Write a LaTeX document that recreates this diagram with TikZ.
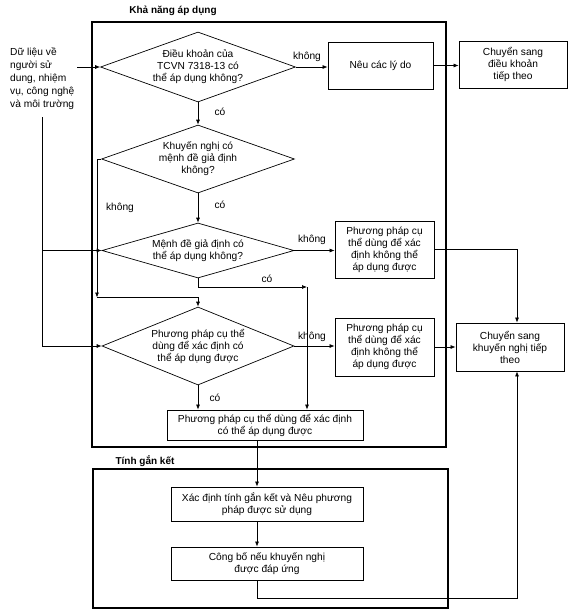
\documentclass[tikz,border=0pt]{standalone}
\usepackage{fontspec}
\setmainfont{Liberation Sans}
\usetikzlibrary{shapes.geometric,arrows.meta}
\begin{document}
\begin{tikzpicture}[x=1pt,y=-1pt,
  every node/.style={font=\fontsize{10.2}{12}\selectfont, align=center, inner sep=0pt},
  frame/.style={draw, line width=1.2pt},
  dia/.style={draw, diamond, line width=0.7pt, minimum width=#1},
  boxx/.style={draw, rectangle, line width=0.8pt},
  conn/.style={line width=0.7pt},
  arr/.style={conn, -{Latex[length=5pt,width=4pt]}},
  lbl/.style={font=\fontsize{10.2}{12}\selectfont},
  ttl/.style={font=\bfseries\fontsize{10}{12}\selectfont}
]
\useasboundingbox (0,0) rectangle (576,616);
\fill[white] (0,0) rectangle (576,616);

% frames
\draw[frame] (92,22) rectangle (446,447);
\draw[frame] (93,469) rectangle (448,608);
\node[ttl] (t1) at (173,11) {Khả năng áp dụng};
\node[ttl] (t2) at (145,461) {Tính gắn kết};

% input text
\node[align=left, anchor=north west, font=\fontsize{10.2}{13.2}\selectfont] (inp) at (10,47) {Dữ liệu về\\người sử\\dung, nhiệm\\vụ, công nghệ\\và môi trường};

% diamonds
\node[dia=195pt, minimum height=70pt, aspect=2.8] (d1) at (198,67) {Điều khoản của\\TCVN 7318-13 có\\thể áp dụng không?};
\node[dia=193pt, minimum height=68pt, aspect=2.84] (d2) at (198,159) {Khuyến nghị có\\mệnh đề giả định\\không?};
\node[dia=192pt, minimum height=55pt, aspect=3.5] (d3) at (198,250.5) {Mệnh đề giả định có\\thể áp dụng không?};
\node[dia=192pt, minimum height=78pt, aspect=2.46] (d4) at (198,346) {Phương pháp cụ thể\\dùng để xác định có\\thể áp dụng được};

% boxes
\node[boxx, minimum width=105pt, minimum height=47pt] (reason) at (380.5,65.5) {Nêu các lý do};
\node[boxx, minimum width=108pt, minimum height=47pt] (nextc) at (513,64.5) {Chuyển sang\\điều khoản\\tiếp theo};
\node[boxx, minimum width=99pt, minimum height=57pt] (na1) at (384.5,249.5) {Phương pháp cụ\\thể dùng để xác\\định không thể\\áp dụng được};
\node[boxx, minimum width=99pt, minimum height=58pt] (na2) at (384.5,347) {Phương pháp cụ\\thể dùng để xác\\định không thể\\áp dụng được};
\node[boxx, minimum width=108pt, minimum height=48pt] (nextr) at (510,347) {Chuyển sang\\khuyến nghị tiếp\\theo};
\node[boxx, minimum width=196pt, minimum height=30pt] (app) at (265,425) {Phương pháp cụ thể dùng để xác định\\có thể áp dụng được};
\node[boxx, minimum width=192pt, minimum height=34pt] (coh) at (267,504) {Xác định tính gắn kết và Nêu phương\\pháp được sử dụng};
\node[boxx, minimum width=192pt, minimum height=33pt] (pub) at (267,563.5) {Công bố nếu khuyến nghị\\được đáp ứng};

% helper coordinates
\coordinate (inA) at (77,67);
\coordinate (inTop) at (42,117);
\coordinate (xl) at (97,0);
\coordinate (c2) at (97,297.5);
\coordinate (c3) at (198,287);
\coordinate (c3r) at (307,287);
\coordinate (xr) at (517,0);
\coordinate (xm) at (257,0);
\coordinate (cb) at (257,598);
\coordinate (cbr) at (517,598);

% connectors
\draw[arr] (inA) -- (d1.west);
\draw[conn] (inTop) -- (42,346);
\draw[arr] (42,250.5) -- (d3.west);
\draw[arr] (42,346) -- (d4.west);

\draw[arr] (d1.east) -- (d1.east -| reason.west);
\draw[arr] (reason.east) -- (reason.east -| nextc.west);
\draw[arr] (d1.south) -- (d2.north);
\draw[arr] (d2.south) -- (d3.north);
\draw[arr] (d2.west) -- (d2.west -| xl) -- (c2);
\draw[arr] (c2) -- (c2 -| d4.north) -- (d4.north);
\draw[arr] (d3.east) -- (d3.east -| na1.west);
\draw[arr] (na1.east) -- (na1.east -| xr) -- (nextr.north -| xr);
\draw[arr] (d3.south) -- (c3) -- (c3r);
\draw[arr] (c3r) -- (app.north -| c3r);
\draw[arr] (d4.east) -- (d4.east -| na2.west);
\draw[arr] (na2.east) -- (na2.east -| nextr.west);
\draw[arr] (d4.south) -- (d4.south |- app.north);
\draw[arr] (app.south -| xm) -- (coh.north -| xm);
\draw[arr] (coh.south -| xm) -- (pub.north -| xm);
\draw[arr] (pub.south -| xm) -- (cb) -- (cbr) -- (nextr.south -| xr);

% labels
\node[lbl] (l1) at (307,57) {không};
\node[lbl] (l2) at (220,112) {có};
\node[lbl] (l3) at (220,205) {có};
\node[lbl] (l4) at (120,208) {không};
\node[lbl] (l5) at (312,240) {không};
\node[lbl] (l6) at (267,279) {có};
\node[lbl] (l7) at (312,337) {không};
\node[lbl] (l8) at (215,398) {có};
\end{tikzpicture}
\end{document}
